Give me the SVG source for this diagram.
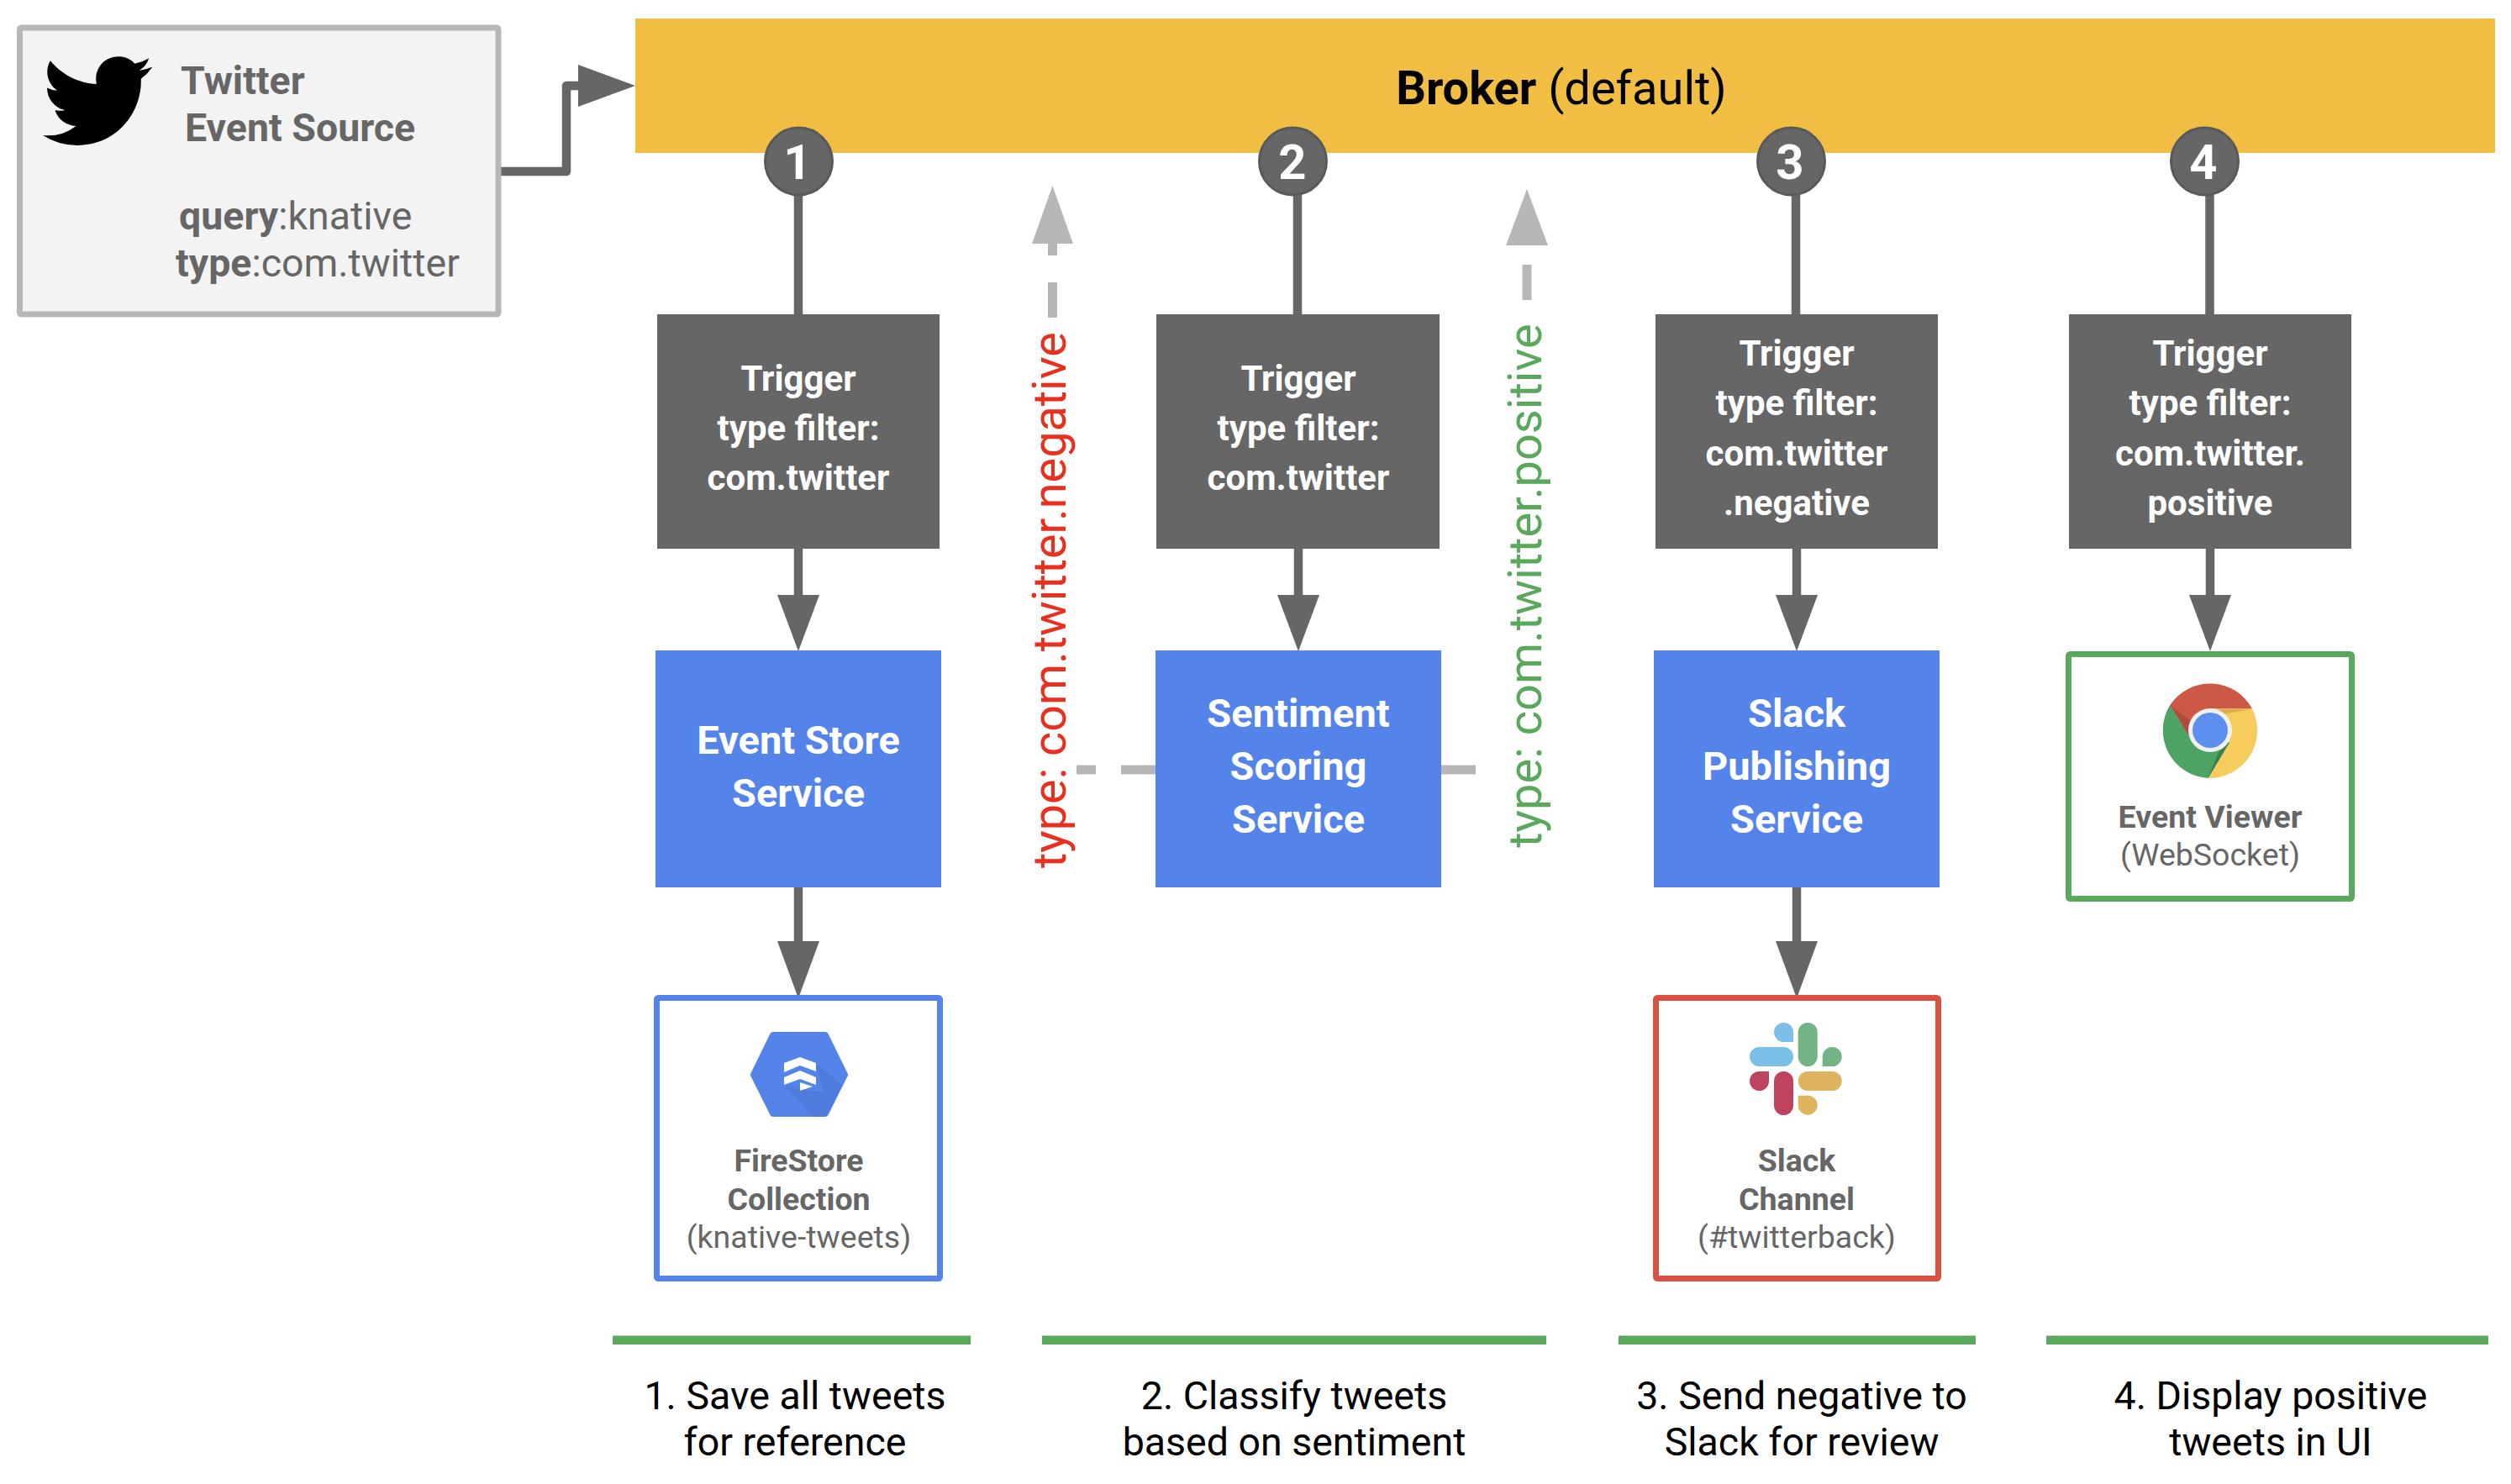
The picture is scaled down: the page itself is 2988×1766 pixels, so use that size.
<svg xmlns="http://www.w3.org/2000/svg" width="2988" height="1766" viewBox="0 0 2988 1766">
<style>
text{font-family:Roboto,"Liberation Sans",sans-serif;text-anchor:middle}
.b{font-weight:700}
.tr{fill:#666}
.bl{fill:#5484ea}
.w{fill:#fff;font-weight:700}
.t1{font-size:42px}
.t2{font-size:47px}
.lbl{font-size:37.500px;fill:#666}
.cap{font-size:46.500px;fill:#000}
.num{font-size:58px;fill:#fff;font-weight:700}
.src{font-size:46.500px;fill:#666;text-anchor:start}
.c{stroke:#666;stroke-width:10.500;fill:none}
.d{stroke:#b7b7b7;stroke-width:11;fill:none}
.head{fill:#666}
.headd{fill:#b7b7b7}
.bar{fill:#5aa85c}
.circ{fill:#666;stroke:#595959;stroke-width:3}
</style>
<g id="connectors">
<path class="c" d="M596 204H674V102H695" stroke-linejoin="round"/>
<polygon class="head" points="688,77 756,102 688,127"/>
<path class="c" d="M950 190V374M950 653V715"/><polygon class="head" points="925,708 975,708 950,775"/>
<path class="c" d="M1544 190V374M1545 653V715"/><polygon class="head" points="1520,708 1570,708 1545,775"/>
<path class="c" d="M2137 190V374M2138 653V715"/><polygon class="head" points="2113,708 2163,708 2138,775"/>
<path class="c" d="M2629.500 190V374M2630 653V715"/><polygon class="head" points="2605,708 2655,708 2630,775"/>
<path class="c" d="M950 1056V1125"/><polygon class="head" points="925,1120 975,1120 950,1188"/>
<path class="c" d="M2138 1056V1125"/><polygon class="head" points="2113,1120 2163,1120 2138,1188"/>
<path class="d" d="M1375 916H1334M1304 916H1281M1252.500 378V336M1252.500 304V285"/>
<polygon class="headd" points="1228,290 1277,290 1252.500,221"/>
<path class="d" d="M1715 916H1756M1817 357V315"/>
<polygon class="headd" points="1792,292 1842,292 1817,225"/>
</g>
<g id="broker"><rect x="756" y="22" width="2213" height="160" fill="#f1bd42"/>
<text x="1858" y="124" font-size="56" fill="#000"><tspan class="b">Broker</tspan> (default)</text></g>
<g id="source"><rect x="23.500" y="33" width="569.500" height="341" fill="#f3f3f3" stroke="#b7b7b7" stroke-width="7" rx="2"/>
<path transform="translate(51 55) scale(5.42)" fill="#000" d="M23.953 4.57a10 10 0 01-2.825.775 4.958 4.958 0 002.163-2.723c-.951.555-2.005.959-3.127 1.184a4.92 4.92 0 00-8.384 4.482C7.69 8.095 4.067 6.13 1.64 3.162a4.822 4.822 0 00-.666 2.475c0 1.71.87 3.213 2.188 4.096a4.904 4.904 0 01-2.228-.616v.06a4.923 4.923 0 003.946 4.827 4.996 4.996 0 01-2.212.085 4.936 4.936 0 004.604 3.417 9.867 9.867 0 01-6.102 2.105c-.39 0-.779-.023-1.17-.067a13.995 13.995 0 007.557 2.209c9.053 0 13.998-7.496 13.998-13.985 0-.21 0-.42-.015-.63A9.935 9.935 0 0024 4.59z"/>
<text class="src b" x="215" y="112">Twitter</text>
<text class="src b" x="220" y="168">Event Source</text>
<text class="src" x="213" y="273"><tspan class="b">query</tspan>:knative</text>
<text class="src" x="209" y="329"><tspan class="b">type</tspan>:com.twitter</text></g>
<g id="step1"><circle class="circ" cx="950.500" cy="192" r="40"/><text class="num" x="949" y="213">1</text></g>
<g id="step2"><circle class="circ" cx="1538.500" cy="192" r="40"/><text class="num" x="1538" y="213">2</text></g>
<g id="step3"><circle class="circ" cx="2131.500" cy="192" r="40"/><text class="num" x="2130" y="213">3</text></g>
<g id="step4"><circle class="circ" cx="2623.500" cy="192" r="40"/><text class="num" x="2622" y="213">4</text></g>
<g id="trigger1"><rect class="tr" x="782" y="374" width="336" height="279"/><text class="w t1" x="950" y="465">Trigger</text><text class="w t1" x="950" y="524">type filter:</text><text class="w t1" x="950" y="583">com.twitter</text></g>
<g id="trigger2"><rect class="tr" x="1376" y="374" width="337" height="279"/><text class="w t1" x="1545" y="465">Trigger</text><text class="w t1" x="1545" y="524">type filter:</text><text class="w t1" x="1545" y="583">com.twitter</text></g>
<g id="trigger3"><rect class="tr" x="1970" y="374" width="336" height="279"/><text class="w t1" x="2138" y="435">Trigger</text><text class="w t1" x="2138" y="494">type filter:</text><text class="w t1" x="2138" y="554">com.twitter</text><text class="w t1" x="2138" y="613">.negative</text></g>
<g id="trigger4"><rect class="tr" x="2462" y="374" width="336" height="279"/><text class="w t1" x="2630" y="435">Trigger</text><text class="w t1" x="2630" y="494">type filter:</text><text class="w t1" x="2630" y="554">com.twitter.</text><text class="w t1" x="2630" y="613">positive</text></g>
<g id="service1"><rect class="bl" x="780" y="774" width="340" height="282"/><text class="w t2" x="950" y="897">Event Store</text><text class="w t2" x="950" y="960">Service</text></g>
<g id="service2"><rect class="bl" x="1375" y="774" width="340" height="282"/><text class="w t2" x="1545" y="865">Sentiment</text><text class="w t2" x="1545" y="928">Scoring</text><text class="w t2" x="1545" y="991">Service</text></g>
<g id="service3"><rect class="bl" x="1968" y="774" width="340" height="282"/><text class="w t2" x="2138" y="865">Slack</text><text class="w t2" x="2138" y="928">Publishing</text><text class="w t2" x="2138" y="991">Service</text></g>
<g id="firestore"><rect x="781.500" y="1187.500" width="337" height="334" fill="#fff" stroke="#5484ea" stroke-width="7" rx="2"/>
<path d="M920 1232H982L1005 1279L982 1325H920L897 1279Z" fill="#5484ea" stroke="#5484ea" stroke-width="8" stroke-linejoin="round"/>
<path d="M971 1265L1002 1292L982 1329H968L934 1293L980 1300Z" fill="#4f7cdc"/>
<path d="M933 1265L952 1258L971 1265V1275L952 1268L933 1276ZM933 1282L952 1274L971 1282V1291L952 1284L933 1291Z" fill="#fff"/>
<path d="M952 1288L967 1293L952 1298Z" fill="#fff"/>
<text class="lbl b" x="950.500" y="1394">FireStore</text><text class="lbl b" x="950.500" y="1440">Collection</text><text class="lbl" x="950.500" y="1484.500">(knative-tweets)</text></g>
<g id="slack"><rect x="1970.500" y="1187.500" width="336" height="334" fill="#fff" stroke="#d95140" stroke-width="7" rx="2"/>
<g fill="#7cc0ea"><path d="M2134 1240H2122.500A11.500 11.500 0 1 1 2134 1228.500Z"/><rect x="2082" y="1246" width="52" height="23" rx="11.500"/></g>
<g fill="#73b486"><rect x="2139.700" y="1217" width="23" height="52" rx="11.500"/><path d="M2168.700 1269V1257.500A11.500 11.500 0 1 1 2180.200 1269Z"/></g>
<g fill="#bd435e"><path d="M2105 1275V1286.500A11.500 11.500 0 1 1 2093.500 1275Z"/><rect x="2111" y="1275" width="23" height="52" rx="11.500"/></g>
<g fill="#deb45f"><rect x="2139.700" y="1275" width="52" height="23" rx="11.500"/><path d="M2139.700 1303.700H2151.200A11.500 11.500 0 1 1 2139.700 1315.200Z"/></g>
<text class="lbl b" x="2138" y="1394">Slack</text><text class="lbl b" x="2138" y="1440">Channel</text><text class="lbl" x="2138" y="1484.500">(#twitterback)</text></g>
<g id="viewer"><rect x="2461.500" y="778.500" width="337" height="291" fill="#fff" stroke="#5aa85c" stroke-width="7" rx="2"/>
<path d="M2582.300 839A57 57 0 0 1 2680 843.300H2630L2605 876.700Z" fill="#cd5845"/>
<path d="M2582.300 839A57 57 0 0 0 2627.700 926L2653.300 883L2605 876.700Z" fill="#4da363"/>
<path d="M2680 843.300A57 57 0 0 1 2627.700 926L2653.300 883L2630 843.300Z" fill="#f6cc5c"/>
<path d="M2630 843.300H2680L2642 851Z" fill="#dfae50"/>
<path d="M2582.300 839L2605 876.700L2610 860Z" fill="#ac4c3b"/>
<path d="M2627.700 926L2653.300 883L2640 895Z" fill="#3c7f4e"/>
<circle cx="2630" cy="869" r="26" fill="#f1f1f1"/><circle cx="2630" cy="869" r="21" fill="#5d8fef"/>
<text class="lbl b" x="2630" y="985">Event Viewer</text><text class="lbl" x="2630" y="1029.500">(WebSocket)</text></g>
<g id="label-negative"><text transform="translate(1268 714) rotate(-90)" font-size="55.800" fill="#e8301f">type: com.twitter.negative</text></g>
<g id="label-positive"><text transform="translate(1834 697) rotate(-90)" font-size="56" fill="#5aa85c">type: com.twitter.positive</text></g>
<g id="stage1"><rect class="bar" x="729" y="1589.500" width="426" height="10.500"/><text class="cap" x="946" y="1677">1. Save all tweets</text><text class="cap" x="946" y="1732">for reference</text></g>
<g id="stage2"><rect class="bar" x="1240" y="1589.500" width="600" height="10.500"/><text class="cap" x="1540" y="1677">2. Classify tweets</text><text class="cap" x="1540" y="1732">based on sentiment</text></g>
<g id="stage3"><rect class="bar" x="1926" y="1589.500" width="425" height="10.500"/><text class="cap" x="2144" y="1677">3. Send negative to</text><text class="cap" x="2144" y="1732">Slack for review</text></g>
<g id="stage4"><rect class="bar" x="2435" y="1589.500" width="526" height="10.500"/><text class="cap" x="2702" y="1677">4. Display positive</text><text class="cap" x="2702" y="1732">tweets in UI</text></g>
</svg>
